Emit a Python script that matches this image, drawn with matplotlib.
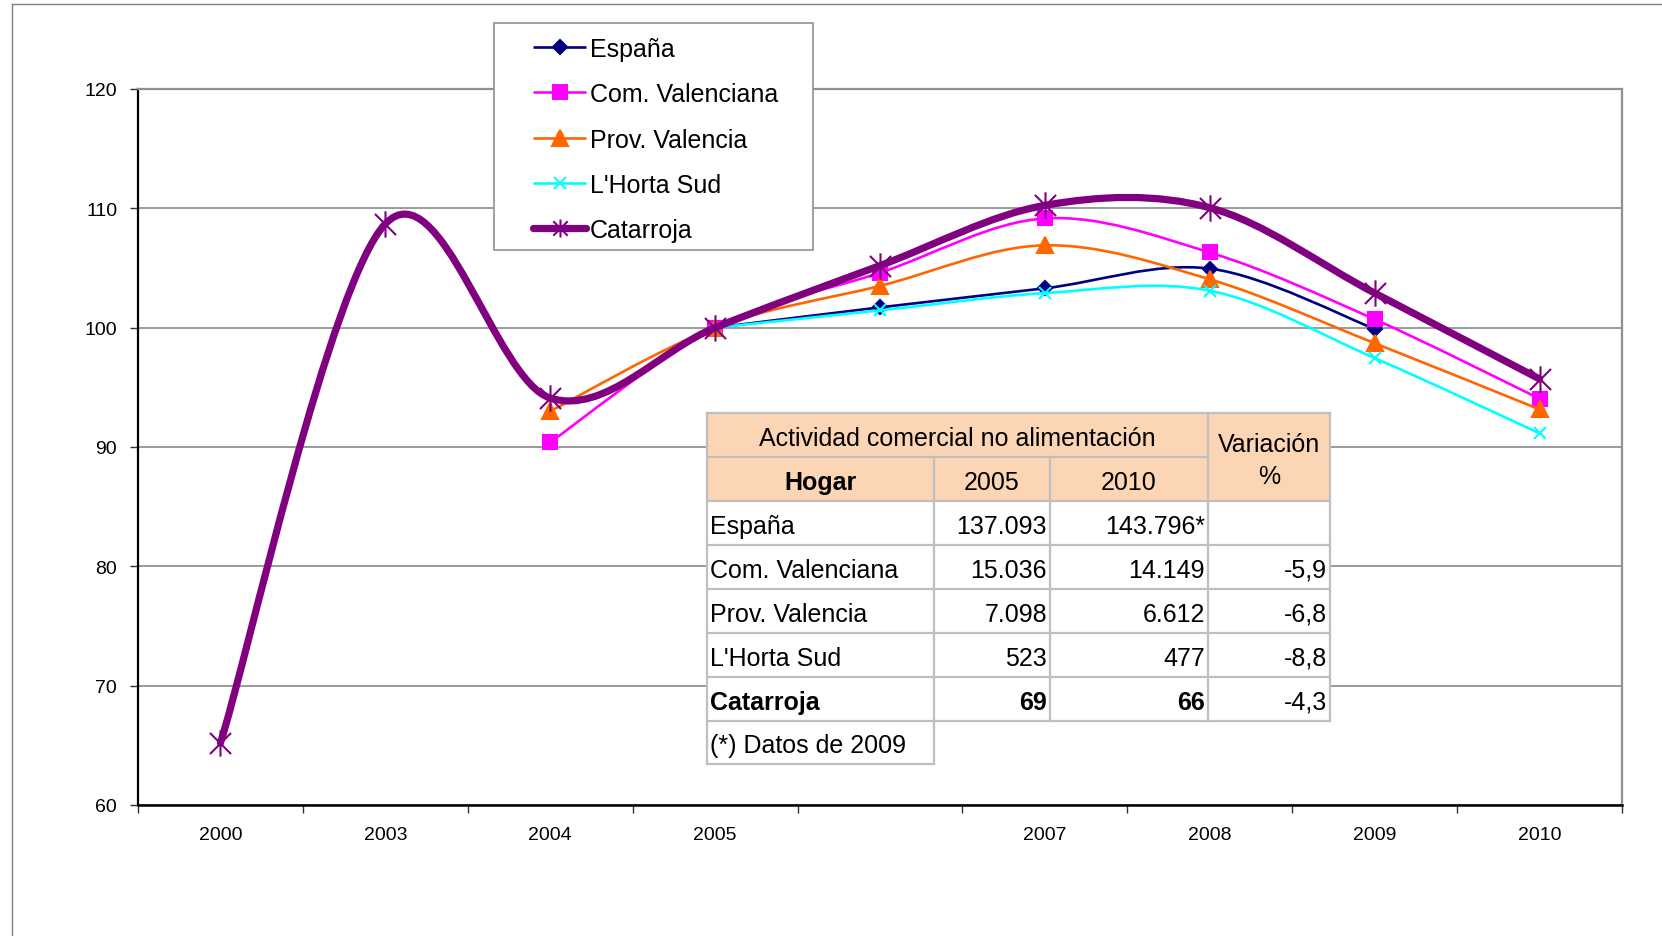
import numpy as np
import matplotlib
matplotlib.use('Agg')
import matplotlib.pyplot as plt
from matplotlib.path import Path
from matplotlib.patches import PathPatch, Rectangle
from matplotlib.lines import Line2D

# ---------------- data ----------------
years = ['2000', '2003', '2004', '2005', '', '2007', '2008', '2009', '2010']
nan = np.nan
espana = [nan, nan, nan, 100.0, 101.7, 103.3, 104.95, 99.9, nan]
com_valenciana = [nan, nan, 90.4, 100.0, 104.6, 109.15, 106.3, 100.7, 94.05]
prov_valencia = [nan, nan, 93.0, 100.0, 103.5, 106.9, 104.05, 98.7, 93.15]
horta_sud = [nan, nan, nan, 100.0, 101.45, 102.9, 103.1, 97.45, 91.15]
catarroja = [65.2, 108.7, 94.1, 100.0, 105.2, 110.25, 110.05, 102.9, 95.7]

series_names = ['España', 'Com. Valenciana', 'Prov. Valencia', "L'Horta Sud", 'Catarroja']
series_values = [espana, com_valenciana, prov_valencia, horta_sud, catarroja]

y_ticks = [60, 70, 80, 90, 100, 110, 120]

table_title = 'Actividad comercial no alimentación'
table_head = ['Hogar', '2005', '2010']
table_var_head = 'Variación\n%'
table_regions = ['España', 'Com. Valenciana', 'Prov. Valencia', "L'Horta Sud", 'Catarroja']
table_2005 = ['137.093', '15.036', '7.098', '523', '69']
table_2010 = ['143.796*', '14.149', '6.612', '477', '66']
table_var = ['', '-5,9', '-6,8', '-8,8', '-4,3']
table_note = '(*) Datos de 2009'

# ---------------- styles ----------------
star = Path([(-1, -1), (1, 1), (-1, 1), (1, -1), (0, -1.25), (0, 1.25)],
            [Path.MOVETO, Path.LINETO, Path.MOVETO, Path.LINETO, Path.MOVETO, Path.LINETO])
styles = [
    dict(color='#000080', lw=1.9, marker='D', ms=7, mfc='#000080'),
    dict(color='#FF00FF', lw=1.9, marker='s', ms=10, mfc='#FF00FF'),
    dict(color='#FF6600', lw=1.9, marker='^', ms=11, mfc='#FF6600'),
    dict(color='#00FFFF', lw=1.9, marker='x', ms=9, mfc='none'),
    dict(color='#800080', lw=5.2, marker=star, ms=19, mfc='none'),
]

TXT = ['Liberation Sans', 'DejaVu Sans']

W, H = 1662, 937
fig = plt.figure(figsize=(W / 100, H / 100), dpi=100)
ax = fig.add_axes([138 / W, 1 - 806 / H, (1622 - 138) / W, (806 - 90) / H])


def smooth_path(xs, ys):
    pts = [(x, y) for x, y in zip(xs, ys) if not np.isnan(y)]
    n = len(pts)
    verts = [pts[0]]
    codes = [Path.MOVETO]
    for i in range(n - 1):
        p0 = pts[i - 1] if i > 0 else pts[i]
        p1 = pts[i]
        p2 = pts[i + 1]
        p3 = pts[i + 2] if i + 2 < n else pts[i + 1]
        c1 = (p1[0] + (p2[0] - p0[0]) / 6, p1[1] + (p2[1] - p0[1]) / 6)
        c2 = (p2[0] - (p3[0] - p1[0]) / 6, p2[1] - (p3[1] - p1[1]) / 6)
        verts += [c1, c2, p2]
        codes += [Path.CURVE4] * 3
    return Path(verts, codes)


x = np.arange(len(years))
for k, (vals, st) in enumerate(zip(series_values, styles)):
    z = 3 + k
    patch = PathPatch(smooth_path(x, vals), fill=False, edgecolor=st['color'],
                      lw=st['lw'], zorder=z, capstyle='round', joinstyle='round')
    ax.add_patch(patch)
    ax.plot(x, vals, linestyle='none', marker=st['marker'], ms=st['ms'],
            mfc=st['mfc'], mec=st['color'], mew=1.5, zorder=z + 0.5)

ax.set_xlim(-0.5, len(years) - 0.5)
ax.set_ylim(60, 120)
ax.set_yticks(y_ticks)
ax.set_yticklabels([str(v) for v in y_ticks], fontsize=14, family=TXT)
ax.set_xticks(np.arange(len(years) + 1) - 0.5)
ax.set_xticklabels([])
ax.set_xticks(x, minor=True)
ax.set_xticklabels(years, minor=True, fontsize=14, family=TXT)
ax.tick_params(axis='x', which='major', length=6, width=1, color='#333333', direction='out')
ax.tick_params(axis='x', which='minor', length=0, pad=15)
ax.tick_params(axis='y', length=6, width=1, color='#333333', pad=9)
ax.grid(axis='y', color='#808080', lw=1.1, zorder=1)
ax.set_axisbelow(True)
for s in ['top', 'right']:
    ax.spines[s].set_color('#909090')
    ax.spines[s].set_linewidth(1.6)
ax.spines['left'].set_color('black')
ax.spines['left'].set_linewidth(1.6)
ax.spines['bottom'].set_color('black')
ax.spines['bottom'].set_linewidth(1.8)

# ---------------- overlay (pixel coords) ----------------
ov = fig.add_axes([0, 0, 1, 1], zorder=5)
ov.set_xlim(0, W)
ov.set_ylim(H, 0)
ov.axis('off')
ov.patch.set_alpha(0)

# outer frame
ov.add_line(Line2D([12, W], [5, 5], color='#808080', lw=1))
ov.add_line(Line2D([12, 12], [5, H], color='#808080', lw=1))

fs = 18

# legend
ov.add_patch(Rectangle((494, 24), 319, 227, fc='white', ec='#909090', lw=1.2))
leg_y = [48, 93, 139, 184, 229]
for name, st, yy in zip(series_names, styles, leg_y):
    ov.add_line(Line2D([533, 586], [yy, yy], color=st['color'], lw=st['lw'],
                       solid_capstyle='round' if st['lw'] > 3 else 'butt'))
    ms = st['ms'] if st['lw'] < 3 else 13
    ov.add_line(Line2D([559.5], [yy], linestyle='none', marker=st['marker'], ms=ms,
                       mfc=st['mfc'], mec=st['color'], mew=1.5))
    ov.text(590, yy + 2, name, fontsize=fs, family=TXT, va='center', ha='left')

# table
col_x = [707, 934, 1050, 1208, 1330]
row_y = [414, 458, 502, 546, 590, 634, 678, 722, 765]
peach = '#FCD5B4'
grid_c = '#BFBFBF'
glw = 1.6
ov.add_patch(Rectangle((col_x[0], row_y[0]), col_x[4] - col_x[0], row_y[2] - row_y[0],
                       fc=peach, ec='none'))
ov.add_patch(Rectangle((col_x[0], row_y[2]), col_x[4] - col_x[0], row_y[7] - row_y[2],
                       fc='white', ec='none'))
ov.add_patch(Rectangle((col_x[0], row_y[7]), col_x[1] - col_x[0], row_y[8] - row_y[7],
                       fc='white', ec='none'))


def hl(y, x0, x1):
    ov.add_line(Line2D([x0, x1], [y, y], color=grid_c, lw=glw))


def vl(xx, y0, y1):
    ov.add_line(Line2D([xx, xx], [y0, y1], color=grid_c, lw=glw))


hl(row_y[0], col_x[0], col_x[4])
hl(row_y[1], col_x[0], col_x[3])
for r in range(2, 8):
    hl(row_y[r], col_x[0], col_x[4])
hl(row_y[8], col_x[0], col_x[1])
vl(col_x[0], row_y[0], row_y[8])
vl(col_x[1], row_y[1], row_y[8])
vl(col_x[2], row_y[1], row_y[7])
vl(col_x[3], row_y[0], row_y[7])
vl(col_x[4], row_y[0], row_y[7])

ty = 3
ov.text((col_x[0] + col_x[3]) / 2, (row_y[0] + row_y[1]) / 2 + ty, table_title,
        fontsize=fs, family=TXT, ha='center', va='center')
ov.text((col_x[3] + col_x[4]) / 2, (row_y[0] + row_y[2]) / 2 + 3, table_var_head,
        fontsize=fs, family=TXT, ha='center', va='center', linespacing=1.4)
for c, h in enumerate(table_head):
    ov.text((col_x[c] + col_x[c + 1]) / 2, (row_y[1] + row_y[2]) / 2 + ty, h,
            fontsize=fs, family=TXT, ha='center', va='center',
            fontweight='bold' if c == 0 else 'normal')
for r in range(len(table_regions)):
    yc = (row_y[2 + r] + row_y[3 + r]) / 2 + ty
    bold = 'bold' if table_regions[r] == 'Catarroja' else 'normal'
    ov.text(col_x[0] + 3, yc, table_regions[r], fontsize=fs, family=TXT,
            ha='left', va='center', fontweight=bold)
    ov.text(col_x[2] - 3, yc, table_2005[r], fontsize=fs, family=TXT,
            ha='right', va='center', fontweight=bold)
    ov.text(col_x[3] - 3, yc, table_2010[r], fontsize=fs, family=TXT,
            ha='right', va='center', fontweight=bold)
    ov.text(col_x[4] - 3, yc, table_var[r], fontsize=fs, family=TXT,
            ha='right', va='center')
ov.text(col_x[0] + 3, (row_y[7] + row_y[8]) / 2 + ty, table_note, fontsize=fs,
        family=TXT, ha='left', va='center')

fig.savefig('out.png', dpi=100, facecolor='white')
